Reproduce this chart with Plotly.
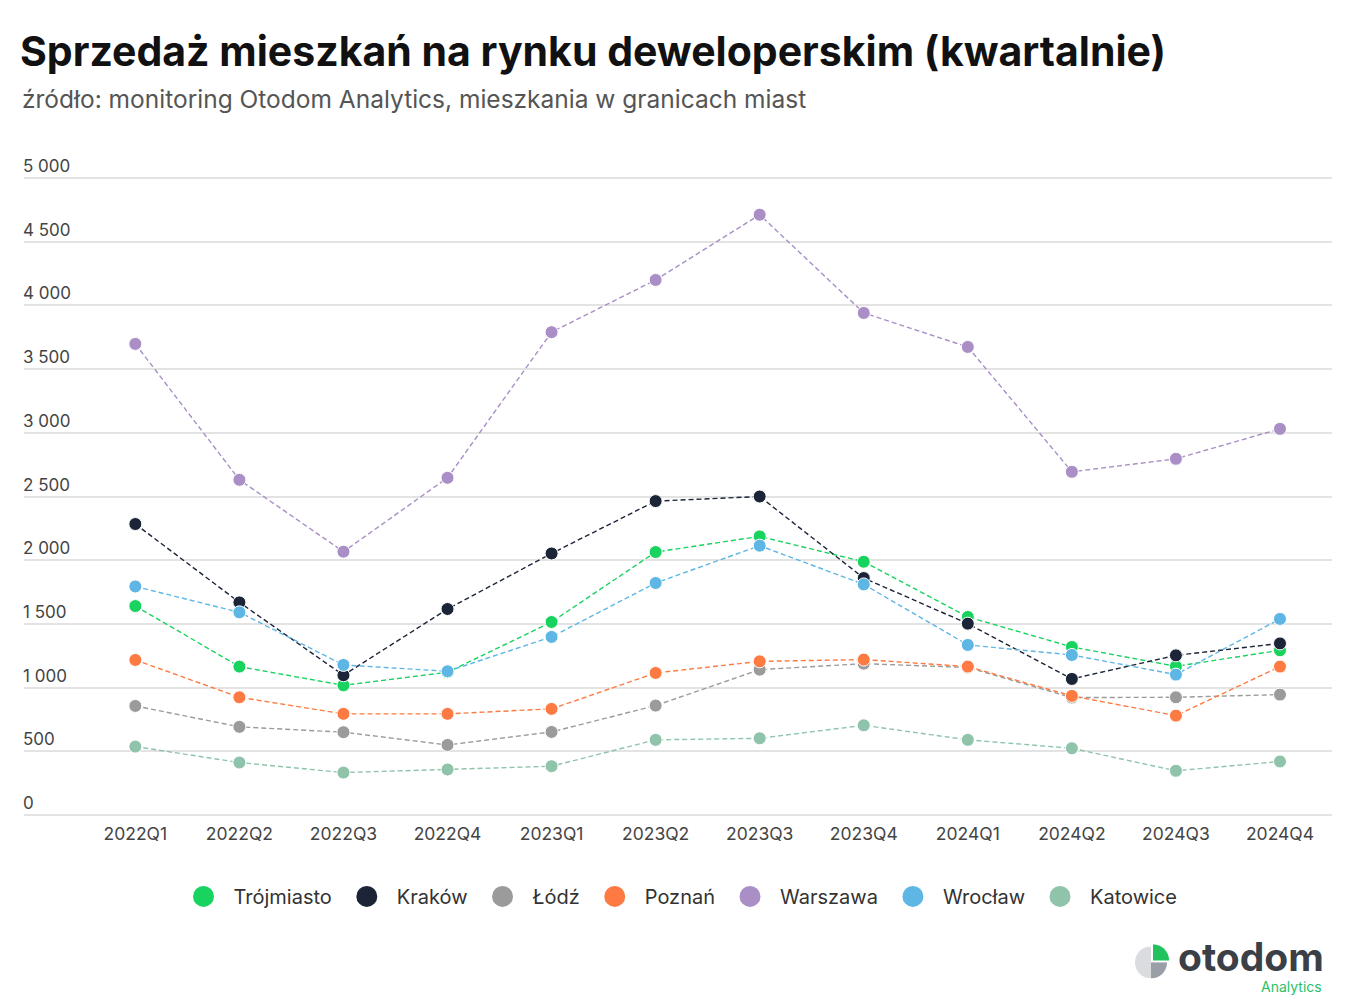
import plotly.graph_objects as go
import math

quarters = ["2022Q1", "2022Q2", "2022Q3", "2022Q4", "2023Q1", "2023Q2",
            "2023Q3", "2023Q4", "2024Q1", "2024Q2", "2024Q3", "2024Q4"]

trojmiasto = [1640, 1165, 1018, 1120, 1515, 2064, 2187, 1988, 1555, 1319, 1167, 1293]
krakow     = [2284, 1669, 1097, 1617, 2053, 2464, 2500, 1860, 1502, 1068, 1253, 1347]
lodz       = [856, 692, 650, 550, 652, 859, 1141, 1188, 1158, 922, 924, 945]
poznan     = [1217, 924, 794, 794, 833, 1115, 1206, 1220, 1165, 935, 780, 1165]
warszawa   = [3698, 2631, 2067, 2647, 3790, 4200, 4712, 3941, 3674, 2694, 2796, 3031]
wroclaw    = [1794, 1591, 1178, 1128, 1398, 1821, 2114, 1810, 1335, 1256, 1102, 1539]
katowice   = [537, 412, 333, 357, 383, 590, 602, 704, 590, 524, 347, 420]

series_names = ["Trójmiasto", "Kraków", "Łódź", "Poznań", "Warszawa", "Wrocław", "Katowice"]
series_values = [trojmiasto, krakow, lodz, poznan, warszawa, wroclaw, katowice]
series_colors = ["#19d35f", "#1c2438", "#9b9b9b", "#fd7b42", "#a98fc6", "#5db6e4", "#8fc4aa"]

y_tickvals = [0, 500, 1000, 1500, 2000, 2500, 3000, 3500, 4000, 4500, 5000]
y_ticktext = ["0", "500", "1 000", "1 500", "2 000", "2 500", "3 000", "3 500", "4 000", "4 500", "5 000"]

FONT = "Inter"
W, H = 1355, 1003
# plot area: 0 at y=815.5, 5000 at y=178 -> extend range above 5000 so top label shows
Y_TOP_VAL = 5220
PIX_PER_UNIT = 637.5 / 5000
T = 178 - (Y_TOP_VAL - 5000) * PIX_PER_UNIT
L, R, B = 24, 23, 187.5
PW, PH = W - L - R, H - T - B


def px(x):
    return (x - L) / PW


def py(y):
    return (H - B - y) / PH


fig = go.Figure()

for name, vals, col in zip(series_names, series_values, series_colors):
    fig.add_trace(go.Scatter(
        x=quarters, y=vals, name=name, mode="lines+markers",
        line=dict(color=col, width=1.4, dash="5px,3px"),
        marker=dict(size=13, color=col, line=dict(color="white", width=1)),
        showlegend=False,
    ))

# legend-only entries (circle symbols)
for name, col in zip(series_names, series_colors):
    fig.add_trace(go.Scatter(
        x=[None], y=[None], name=name, mode="markers",
        marker=dict(size=16, color=col, line=dict(color=col, width=5)),
        showlegend=True,
    ))

fig.update_layout(
    width=W, height=H,
    margin=dict(l=L, r=R, t=T, b=B),
    paper_bgcolor="white", plot_bgcolor="white",
    font=dict(family=FONT, color="#444"),
    title=dict(text="<b>Sprzedaż mieszkań na rynku deweloperskim (kwartalnie)</b>",
               x=20 / W, xanchor="left", y=1 - 52 / H, yanchor="middle",
               font=dict(size=41, color="#111", family=FONT)),
    legend=dict(orientation="h", x=0.5, xanchor="center", y=py(897), yanchor="middle",
                font=dict(size=20, color="#333"), itemsizing="trace", itemwidth=50,
                traceorder="normal"),
    showlegend=True,
    xaxis=dict(type="category", range=[-1.07, 11.5], showgrid=False, zeroline=False,
               showline=False, ticks="", ticklabelstandoff=6,
               tickfont=dict(size=17.5, color="#444")),
    yaxis=dict(range=[0, Y_TOP_VAL], tickvals=y_tickvals, ticktext=y_ticktext,
               ticklabelposition="inside top", ticklabelstandoff=-4,
               showgrid=True, gridcolor="#e3e3e3",
               gridwidth=1.5, zeroline=True, zerolinecolor="#e3e3e3", zerolinewidth=1.5,
               showline=False, ticks="", tickfont=dict(size=17, color="#444")),
)

fig.add_annotation(text="źródło: monitoring Otodom Analytics, mieszkania w granicach miast",
                   xref="paper", yref="paper", x=px(20), y=py(99), xanchor="left",
                   yanchor="middle", showarrow=False,
                   font=dict(size=24.5, color="#555", family=FONT))

# logo
fig.add_annotation(text="<b>otodom</b>", xref="paper", yref="paper", x=px(1326), y=py(957),
                   xanchor="right", yanchor="middle", showarrow=False,
                   font=dict(size=39, color="#3b4047", family=FONT))
fig.add_annotation(text="Analytics", xref="paper", yref="paper", x=px(1324), y=py(987),
                   xanchor="right", yanchor="middle", showarrow=False,
                   font=dict(size=14, color="#2bbf6a", family=FONT))


def wedge(cx, cy, r, a0, a1, n=24):
    pts = [(cx, cy)]
    for i in range(n + 1):
        a = math.radians(a0 + (a1 - a0) * i / n)
        pts.append((cx + r * math.cos(a), cy - r * math.sin(a)))
    return "M " + " L ".join(f"{px(x):.5f},{py(y):.5f}" for x, y in pts) + " Z"


cx, cy, r = 1151, 963, 16
fig.add_shape(type="path", path=wedge(cx, cy, r, 90, 360), xref="paper", yref="paper",
              fillcolor="#dadce0", line=dict(width=0))
fig.add_shape(type="path", path=wedge(cx, cy, r, 270, 360), xref="paper", yref="paper",
              fillcolor="#9a9ea6", line=dict(width=0))
fig.add_shape(type="path", path=wedge(cx + 2, cy - 2, r, 0, 90), xref="paper", yref="paper",
              fillcolor="#22c35e", line=dict(width=0))

fig.write_html("out.html", config={"displayModeBar": False},
               post_script="document.body.style.margin='0';document.body.style.overflow='hidden';")
